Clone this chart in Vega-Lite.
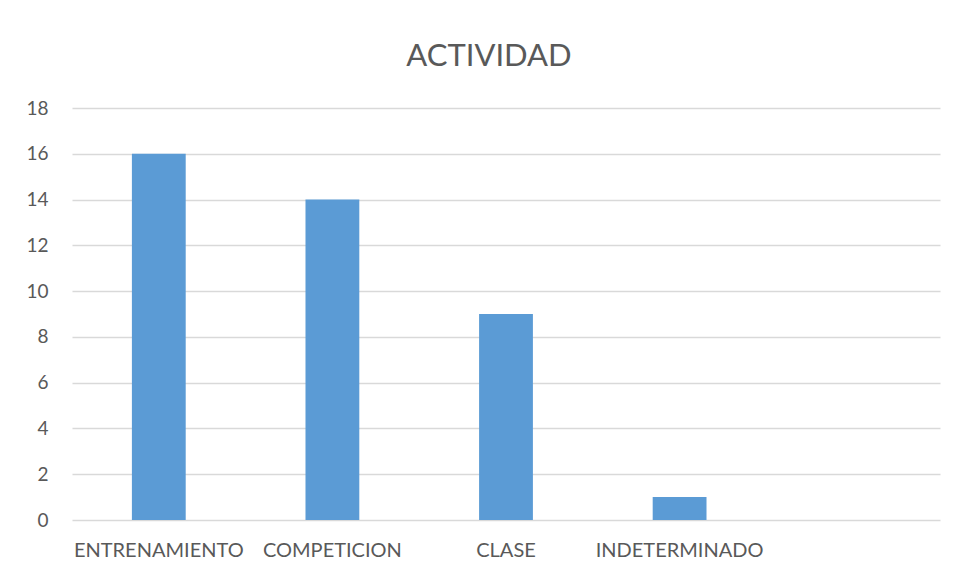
{
  "$schema": "https://vega.github.io/schema/vega-lite/v6.json",
  "width": 868,
  "height": 412,
  "autosize": {"type": "none"},
  "padding": {"left": 72, "top": 108, "right": 15, "bottom": 59},
  "background": "white",
  "config": {"view": {"stroke": null}, "font": "Lato"},
  "title": {
    "text": "ACTIVIDAD",
    "fontSize": 31,
    "font": "Lato",
    "fontWeight": "normal",
    "color": "#595959",
    "anchor": "middle",
    "dx": -17,
    "offset": 26
  },
  "data": {
    "values": [
      {"actividad": "ENTRENAMIENTO", "n": 16},
      {"actividad": "COMPETICION", "n": 14},
      {"actividad": "CLASE", "n": 9},
      {"actividad": "INDETERMINADO", "n": 1}
    ]
  },
  "mark": {"type": "bar", "color": "#5b9bd5"},
  "encoding": {
    "x": {
      "field": "actividad",
      "type": "nominal",
      "sort": null,
      "scale": {"domain": ["ENTRENAMIENTO", "COMPETICION", "CLASE", "INDETERMINADO", " "], "paddingInner": 0.69, "paddingOuter": 0.345},
      "axis": {"title": null, "labelAngle": 0, "domain": false, "ticks": false, "labelFontSize": 20, "labelColor": "#595959", "labelPadding": 20, "labelFont": "Lato"}
    },
    "y": {
      "field": "n",
      "type": "quantitative",
      "scale": {"domain": [0, 18]},
      "axis": {"title": null, "values": [0,2,4,6,8,10,12,14,16,18], "domain": false, "ticks": false, "labelFontSize": 19, "labelColor": "#595959", "labelPadding": 24, "gridColor": "#d9d9d9", "gridWidth": 1.5, "labelFont": "Lato"}
    }
  }
}
